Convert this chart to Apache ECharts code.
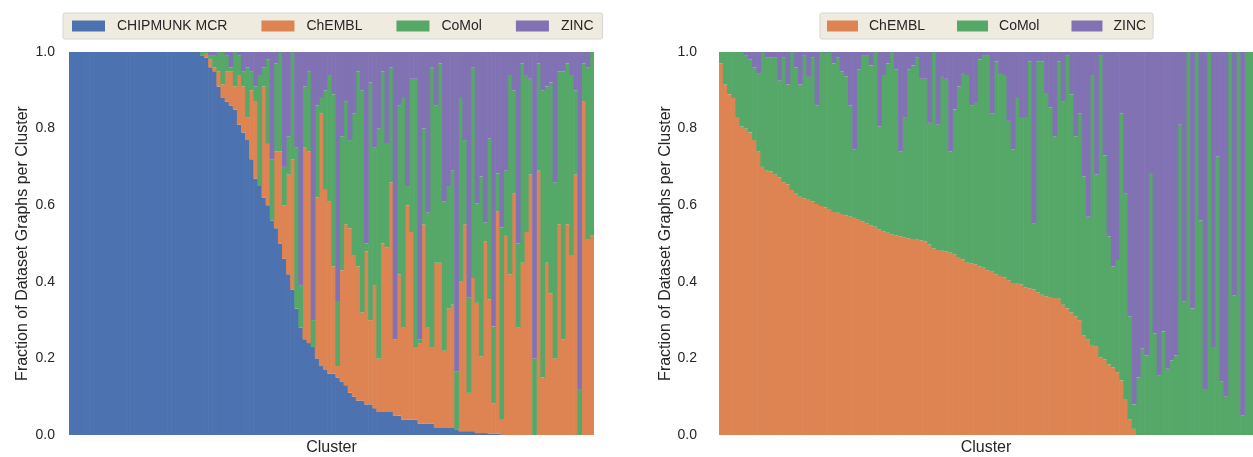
<!DOCTYPE html>
<html>
<head>
<meta charset="utf-8">
<script src="https://cdn.jsdelivr.net/npm/echarts@6/dist/echarts.min.js"></script>
<style>
  html, body { margin: 0; padding: 0; background: #fff; }
  #chart { width: 1253px; height: 457px; }
</style>
</head>
<body>
<div id="chart"></div>
<script>
// left panel: share of each dataset per cluster (clusters sorted by CHIPMUNK share)
var chipmunk = [1,1,1,1,1,1,1,1,1,1,1,1,1,1,1,1,1,1,1,1,1,1,1,1,1,1,1,1,1,1,1,1,
  .99,.985,.96,.95,.91,.88,.87,.86,.85,.81,.79,.77,.72,.67,.65,.62,.60,.56,.54,.50,.46,.42,.38,.33,.28,.25,.24,.23,
  .20,.18,.17,.16,.16,.15,.14,.13,.11,.10,.09,.09,.08,.08,.07,.06,.06,.06,.06,.05,.05,.04,.04,.04,.04,.03,.03,.03,.03,
  .02,.02,.02,.02,.02,.015,.01,.01,.01,.01,.005,.005,.005,.004,.003,.003,.002,
  0,0,0,0,0,0,0,0,0,0,0,0,0,0,0,0,0,0,0,0,0,0];
var chemblL = [0,0,0,0,0,0,0,0,0,0,0,0,0,0,0,0,0,0,0,0,0,0,0,0,0,0,0,0,0,0,0,0,
  0,.01,.02,.01,.04,.035,.08,.09,.06,.13,.12,.06,.18,.20,0,.29,.16,0,.20,.24,.14,.26,.34,0,0,.50,.50,0,
  .42,.66,.47,.45,.28,.03,.29,.42,.43,.37,.35,.23,.40,.22,.32,.14,.44,.43,.60,.20,.37,.24,.56,.49,.19,.21,.52,.25,.20,
  .43,.43,.20,.31,.32,0,.39,.54,.10,.40,.34,.20,.50,.35,.08,.58,.04,
  .52,.42,.63,.28,.45,.53,.68,0,.69,.15,.45,.37,.20,.55,.25,.55,.47,.68,0,.87,.51,.52];
var comolL = [0,0,0,0,0,0,0,0,0,0,0,0,0,0,0,0,0,0,0,0,0,0,0,0,0,0,0,0,0,0,0,0,
  .01,.005,.01,.03,.05,.085,.04,.01,.09,.05,.04,.13,.05,.04,.29,.05,.22,.16,.23,.26,.10,.10,.28,.42,.11,.16,.21,.07,
  .24,.04,.26,.33,.45,.17,.35,.32,.23,.37,.51,.58,.02,.62,.36,.60,.45,.27,.30,0,.44,.60,.05,.40,.70,.01,.25,.30,.73,
  .41,.52,.39,.32,.35,.15,.48,.22,.25,.55,.26,.47,.05,.42,.20,.10,.50,
  .17,.52,.27,.22,.52,.41,.25,.20,.28,.75,.46,.55,.46,.40,.70,.42,.47,.22,.12,.10,.45,.48];
var zincL = [0,0,0,0,0,0,0,0,0,0,0,0,0,0,0,0,0,0,0,0,0,0,0,0,0,0,0,0,0,0,0,0,
  0,0,.01,.01,0,0,.01,.04,0,.01,.05,.04,.05,.09,.06,.04,.02,.28,.03,0,.30,.22,0,.25,.61,.09,.05,.70,
  .14,.12,.10,.06,.11,.65,.22,.13,.23,.16,.05,.10,.50,.08,.25,.20,.05,.24,.04,.75,.14,.12,.35,.07,.07,.75,.20,.42,.04,
  .14,.03,.39,.35,.31,.835,.12,.23,.64,.04,.395,.325,.445,.226,.717,.317,.458,
  .31,.06,.10,.50,.03,.06,.07,.80,.03,.10,.09,.08,.34,.05,.05,.03,.06,.10,.88,.03,.04,0];

// right panel: clusters without CHIPMUNK (sorted by ChEMBL share)
var chemblR = [.97,.915,.89,.88,.83,.805,.80,.79,.77,.74,
  .70,.69,.688,.68,.673,.66,.655,.64,.63,.622,
  .618,.614,.61,.603,.598,.594,.59,.582,.58,.577,
  .574,.57,.567,.564,.558,.553,.547,.544,.537,.532,
  .528,.524,.521,.519,.516,.514,.512,.51,.508,.505,
  .497,.487,.483,.481,.479,.476,.472,.465,.458,.45,
  .448,.446,.44,.437,.43,.426,.42,.415,.412,.404,
  .397,.395,.393,.385,.383,.38,.373,.366,.362,.36,
  .358,.356,.34,.33,.32,.31,.30,.26,.25,.235,
  .232,.203,.197,.184,.176,.164,.142,.094,.04,.016,
  0,0,0,0,0,0,0,0,0,0,0,0,0,0,0,0,0,0,0,0,0,0,0,0,0,0,0,0];
var comolR = [.03,.085,.11,.12,.17,.195,.19,.19,.19,.205,
  .30,.295,.297,.305,.252,.325,.26,.36,.33,.293,
  .372,.321,.375,.257,.402,.401,.41,.388,.405,.373,
  .363,.29,.178,.391,.432,.437,.418,.456,.269,.408,
  .442,.476,.434,.221,.314,.441,.453,.475,.422,.425,
  .318,.513,.327,.454,.451,.264,.378,.445,.487,.49,
  .412,.421,.54,.553,.56,.414,.556,.53,.528,.416,
  .348,.485,.437,.445,.592,.173,.602,.609,.531,.495,
  .422,.619,.53,.66,.57,.47,.54,.415,.32,.705,
  .448,.787,.533,.334,.264,.293,.698,.536,.27,.064,
  .15,.226,.208,.684,.265,.155,.27,.173,.195,.208,
  .81,.348,1,.33,1,.56,.12,1,.23,.727,
  .14,.10,1,.365,1,.05,1,1];
var zincR = [0,0,0,0,0,0,.01,.02,.04,.055,
  0,.015,.015,.015,.075,.015,.085,0,.04,.085,
  .01,.065,.015,.14,0,.005,0,.03,.015,.05,
  .063,.14,.255,.045,.01,.01,.035,0,.194,.06,
  .03,0,.045,.26,.17,.045,.035,.015,.07,.07,
  .185,0,.19,.065,.07,.26,.15,.09,.055,.06,
  .14,.133,.02,.01,.01,.16,.024,.055,.06,.18,
  .255,.12,.17,.17,.025,.447,.025,.025,.107,.145,
  .22,.025,.13,.01,.11,.22,.16,.325,.43,.06,
  .32,.01,.27,.482,.56,.543,.16,.37,.69,.92,
  .85,.774,.792,.316,.735,.845,.73,.827,.805,.792,
  .19,.652,0,.67,0,.44,.88,0,.77,.273,
  .86,.90,0,.635,0,.95,0,0];

var clustersL = chipmunk.map(function(v,i){return 'C'+(i+1);});
var clustersR = chemblR.map(function(v,i){return 'C'+(i+1);});

var COLORS = {'CHIPMUNK MCR':'#4c72b0','ChEMBL':'#dd8452','CoMol':'#55a868','ZINC':'#8172b3'};
var FONT = "'Liberation Sans', Arial, sans-serif";
var TXT = '#262626';

function bars(name, data, idx){
  return {
    name:name, type:'bar', stack:'s'+idx, xAxisIndex:idx, yAxisIndex:idx,
    data:data.map(function(v){return v===0?null:v;}),
    barCategoryGap:'0%', barWidth:'115%',
    itemStyle:{color:COLORS[name], borderWidth:0},
    emphasis:{disabled:true}, silent:true
  };
}

function yAx(idx, margin, gap){
  return {
    type:'value', gridIndex:idx, min:0, max:1, interval:0.2,
    axisLabel:{fontSize:14, color:TXT, margin:margin, formatter:function(v){return v.toFixed(1);}},
    axisLine:{show:false}, axisTick:{show:false}, splitLine:{show:false},
    name:'Fraction of Dataset Graphs per Cluster', nameLocation:'middle', nameGap:gap,
    nameTextStyle:{fontSize:16, color:TXT}
  };
}
function xAx(idx, cats){
  return {
    type:'category', gridIndex:idx, data:cats,
    axisLabel:{show:false}, axisTick:{show:false}, axisLine:{show:false}, splitLine:{show:false},
    name:'Cluster', nameLocation:'middle', nameGap:5,
    nameTextStyle:{fontSize:16, color:TXT, verticalAlign:'top'}
  };
}
function legend(left, names, sw, gap, pad, tpad){
  return {
    left:left, top:13, data:names, selectedMode:false,
    icon:'rect', itemWidth:sw, itemHeight:11, itemGap:gap,
    backgroundColor:'#efebdf', borderColor:'#d6d6d6', borderWidth:1, borderRadius:2,
    padding:[6,pad],
    textStyle:{fontSize:14, color:TXT, padding:[0,0,0,tpad]}
  };
}

var chart = echarts.init(document.getElementById('chart'), null, {renderer:'canvas'});
chart.setOption({
  animation:false,
  backgroundColor:'#ffffff',
  textStyle:{fontFamily:FONT},
  legend:[
    legend(63, ['CHIPMUNK MCR','ChEMBL','CoMol','ZINC'], 33, 34, 9, 7),
    legend(820, ['ChEMBL','CoMol','ZINC'], 31, 32, 7, 6)
  ],
  grid:[
    {left:69, right:659, top:52, bottom:22, outerBoundsMode:'none'},
    {left:719, right:0, top:52, bottom:22, outerBoundsMode:'none'}
  ],
  xAxis:[xAx(0, clustersL), xAx(1, clustersR)],
  yAxis:[yAx(0, 14, 38), yAx(1, 22, 38)],
  series:[
    bars('CHIPMUNK MCR', chipmunk, 0),
    bars('ChEMBL', chemblL, 0),
    bars('CoMol', comolL, 0),
    bars('ZINC', zincL, 0),
    bars('ChEMBL', chemblR, 1),
    bars('CoMol', comolR, 1),
    bars('ZINC', zincR, 1)
  ]
});
</script>
</body>
</html>
